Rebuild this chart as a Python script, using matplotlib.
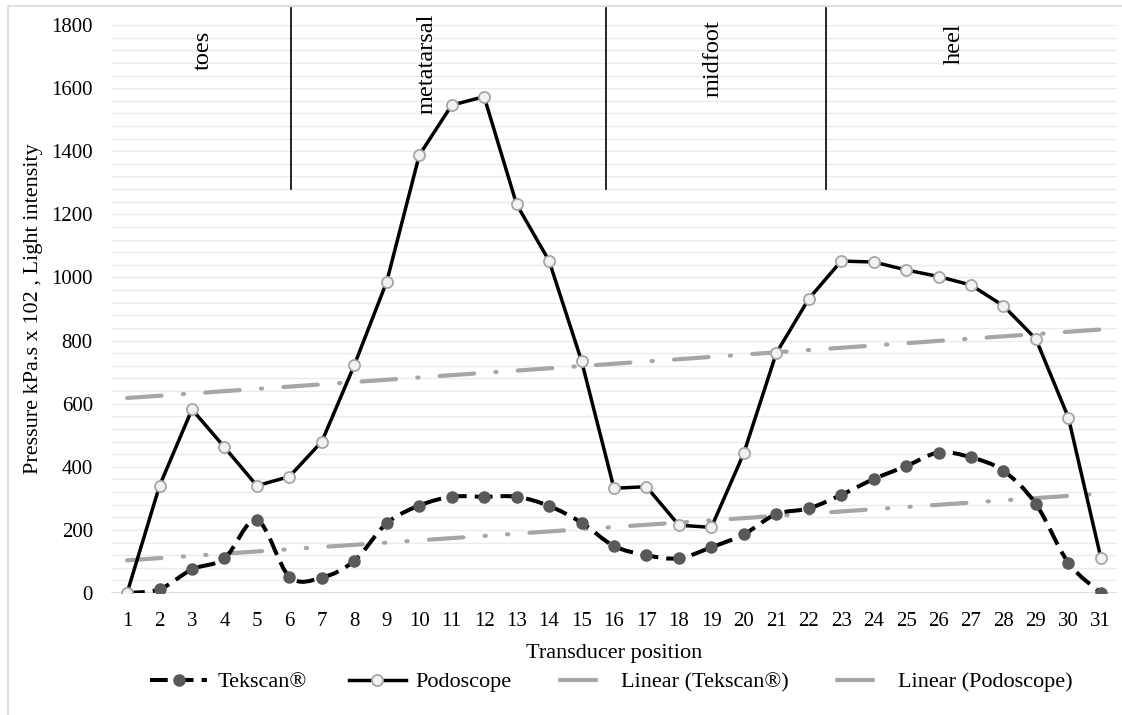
import matplotlib
matplotlib.use('Agg')
import matplotlib.pyplot as plt
import numpy as np
from matplotlib.path import Path
from matplotlib.patches import PathPatch, Rectangle
from matplotlib.lines import Line2D

plt.rcParams['font.family'] = ['Liberation Serif', 'DejaVu Serif']

# transducer positions and readings
positions = list(range(1, 32))
tekscan = [0, 12, 75, 110, 231, 52, 49, 102, 221, 277, 305, 305, 305, 276, 223, 149,
           120, 110, 145, 186, 250, 268, 311, 361, 402, 445, 430, 387, 282, 96, 0]
podoscope = [0, 340, 582, 462, 340, 369, 480, 722, 987, 1387, 1546, 1573, 1232, 1053,
             736, 332, 337, 215, 208, 443, 760, 932, 1052, 1049, 1024, 1003, 976, 910,
             805, 556, 112]

# foot regions: label, x of label, x of divider that follows it
regions = ['toes', 'metatarsal', 'midfoot', 'heel']
region_label_x = [3.34, 10.24, 19.05, 26.5]
region_label_y = [1721, 1676, 1695, 1740]
dividers = [6.05, 15.75, 22.53]

fig = plt.figure(figsize=(11.22, 7.15), dpi=100)
ax = fig.add_axes([0.0988, 0.1706, 0.8968, 0.7944])

# chart area border (clipped at right and bottom like the source)
fig.patches.append(Rectangle((8 / 1122, -0.05), 1.2, 1.05 - 6 / 715, transform=fig.transFigure,
                             fill=False, edgecolor='#d9d9d9', lw=1.2, zorder=0))

x = np.array(positions, dtype=float)
tk = np.array(tekscan, dtype=float)
po = np.array(podoscope, dtype=float)

# gridlines every 40
ax.set_xlim(0.5, 31.5)
ax.set_ylim(0, 1800)
ax.set_yticks(np.arange(0, 1801, 200))
ax.set_yticks(np.arange(0, 1801, 40), minor=True)
ax.set_xticks(positions)
ax.grid(True, axis='y', which='both', color='#ebebeb', lw=1.0)
ax.axhline(0, color='#d9d9d9', lw=1.2, zorder=1)
ax.set_axisbelow(True)
for s in ax.spines.values():
    s.set_visible(False)
ax.tick_params(axis='both', which='both', length=0, labelsize=15, colors='#000000')
ax.tick_params(axis='y', pad=13)
ax.tick_params(axis='x', pad=14)

# linear trendlines
fit_t = np.polyfit(x, tk, 1)
fit_p = np.polyfit(x, po, 1)
trend_color = '#a6a6a6'
ax.plot(x, np.polyval(fit_t, x), color=trend_color, lw=3.0, dash_capstyle='round',
        dashes=(8.3, 5.1, 0.3, 5.1, 0.3, 5.1), zorder=2)
ax.plot(x, np.polyval(fit_p, x), color=trend_color, lw=3.0, dash_capstyle='round',
        dashes=(8.3, 5.1, 0.3, 5.1), zorder=2)

# smoothed Tekscan line (bezier, same as Excel smoothing)
pts = np.column_stack([x, tk])
verts = [pts[0]]
codes = [Path.MOVETO]
n = len(pts)
for i in range(n - 1):
    p0 = pts[i - 1] if i > 0 else pts[i]
    p1 = pts[i]
    p2 = pts[i + 1]
    p3 = pts[i + 2] if i + 2 < n else pts[i + 1]
    c1 = p1 + (p2 - p0) / 6.0
    c2 = p2 - (p3 - p1) / 6.0
    verts += [c1, c2, p2]
    codes += [Path.CURVE4] * 3
tk_style = (0, (4.4, 2.0))
ax.add_patch(PathPatch(Path(verts, codes), fill=False, edgecolor='black', lw=2.9,
                       linestyle=tk_style, zorder=3))
ax.plot(x, tk, linestyle='none', marker='o', ms=8, mfc='#595959', mec='#595959', zorder=4)

ax.plot(x, po, color='black', lw=2.5, marker='o', ms=8, mfc='#f2f2f2', mec='#a6a6a6',
        mew=1.3, zorder=5)

# region dividers and labels
for d in dividers:
    ax.plot([d, d], [1280, 1855], color='black', lw=1.2, clip_on=False, zorder=3)
for lab, lx, ly in zip(regions, region_label_x, region_label_y):
    ax.text(lx, ly, lab, rotation=90, ha='center', va='center', fontsize=17.5)

ax.set_xlabel('Transducer position', fontsize=16, labelpad=9)
ax.set_ylabel('Pressure kPa.s x 102 , Light intensity', fontsize=16, labelpad=6)

# legend proxies
h_tk = Line2D([], [], color='black', lw=2.9, linestyle=tk_style, marker='o', ms=8,
              mfc='#595959', mec='#595959')
h_po = Line2D([], [], color='black', lw=2.5, marker='o', ms=8, mfc='#f2f2f2', mec='#a6a6a6',
              mew=1.3)
h_lt = Line2D([], [], color=trend_color, lw=3.0, linestyle=(28.5, (9.5, 20)))
h_lp = Line2D([], [], color=trend_color, lw=3.0, linestyle=(28.5, (9.5, 20)))
fig.legend([h_tk, h_po, h_lt, h_lp],
           ['Tekscan®', 'Podoscope', 'Linear (Tekscan®)', 'Linear (Podoscope)'],
           loc='center', bbox_to_anchor=(0.545, 1 - 682 / 715), ncol=4, frameon=False,
           fontsize=16, handlelength=2.57, columnspacing=1.9, handletextpad=0.45)

fig.savefig('out.png', dpi=100)
